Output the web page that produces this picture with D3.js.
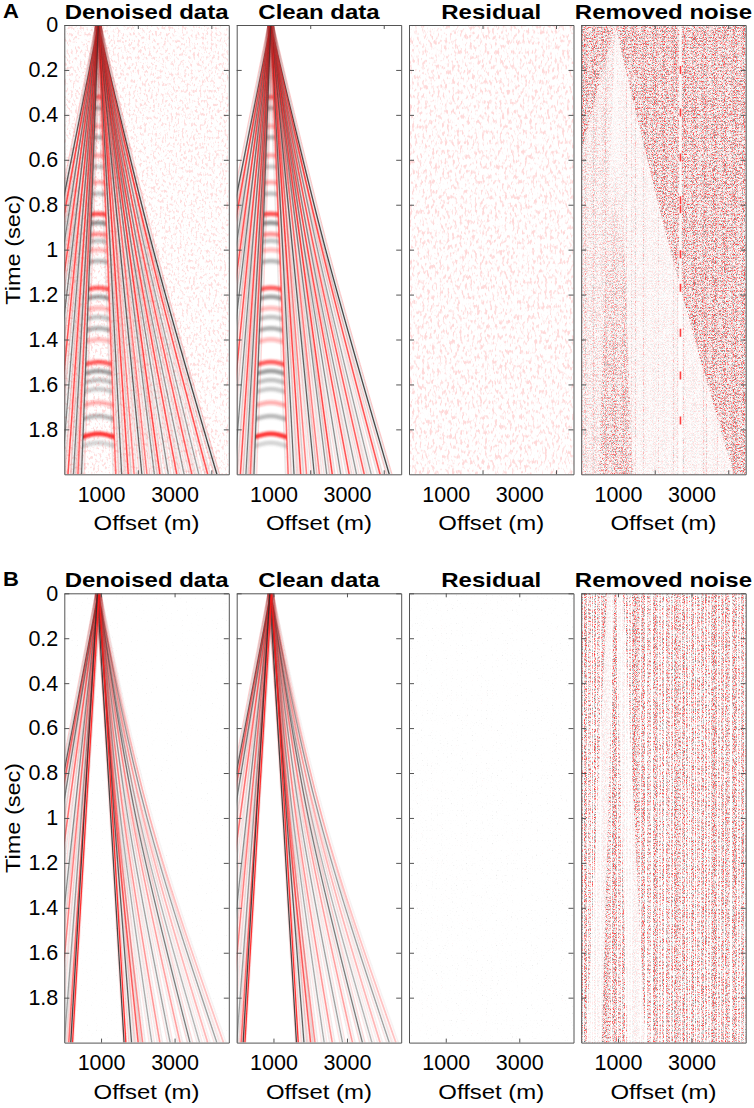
<!DOCTYPE html>
<html><head><meta charset="utf-8">
<script src="https://cdn.jsdelivr.net/npm/d3@7/dist/d3.min.js"></script>
<style>
html,body{margin:0;padding:0;background:#fff}
svg{display:block}
</style></head>
<body>
<svg id="fig" width="754" height="1108"></svg>
<script>
// ---------------- data ----------------
const panelTitles = ["Denoised data", "Clean data", "Residual", "Removed noise"];
const rowLabels = ["A", "B"];
const timeTicks = [0, 0.2, 0.4, 0.6, 0.8, 1, 1.2, 1.4, 1.6, 1.8];
const timeDomain = [0, 2];
const offsetDomain = [0, 4475];
const offsetTickLabels = [1000, 3000];
const offsetTickMarksA = [2000, 4000];
const offsetTickMarksB = [1000, 3000];
const apexOffset = 925;

// events: [offset at 1 s, offset at 2 s, polarity (+1 red, -1 black, 0 doublet), amplitude]
const eventsA = [
  [2420, 4150, -1, 1.0], [2320, 3900, 1, 0.85], [2200, 3660, -1, 0.5], [2110, 3470, 1, 0.8],
  [2010, 3260, -1, 0.55], [1930, 3060, 1, 0.85], [1840, 2830, -1, 0.6], [1760, 2600, 1, 0.9],
  [1690, 2450, -1, 0.6], [1600, 2250, 1, 0.6], [1520, 2110, -1, 0.85], [1420, 1900, 1, 0.6],
  [1340, 1740, 1, 0.9], [1250, 1560, -1, 0.8], [1170, 1400, 1, 0.7],
  [-300, -1500, -1, 0.9], [-170, -1270, 1, 0.85], [-30, -1000, -1, 0.65], [90, -760, 1, 0.85],
  [210, -510, -1, 0.7], [320, -280, 1, 0.85], [420, -70, -1, 0.65], [510, 100, 1, 0.85],
  [590, 250, -1, 0.7], [650, 370, 1, 0.7], [700, 470, -1, 0.75]
];
const innerConeA = [[700, 470], [1170, 1400]];
// flat reflections inside the inner cone: [time, polarity, amplitude]
const reflectionsA = [
  [0.32, 1, 0.6], [0.37, -1, 0.4], [0.45, 1, 0.3], [0.5, -1, 0.4], [0.58, 1, 0.35], [0.63, -1, 0.3],
  [0.70, 1, 0.35], [0.75, -1, 0.35], [0.84, 1, 0.75], [0.88, -1, 0.6], [0.93, 1, 0.45], [0.96, -1, 0.35],
  [1.00, 1, 0.3], [1.05, -1, 0.4], [1.17, 1, 0.7], [1.21, -1, 0.55], [1.26, 1, 0.3], [1.30, -1, 0.35],
  [1.35, -1, 0.45], [1.40, 1, 0.3], [1.50, 1, 0.7], [1.54, -1, 0.55], [1.58, -1, 0.35], [1.62, -1, 0.3],
  [1.68, 1, 0.35], [1.74, -1, 0.4], [1.82, 1, 0.9], [1.86, -1, 0.25]
];
const eventsB = [
  [2330, 4330, 1, 0.3], [2250, 4150, -1, 0.5], [2150, 3900, 1, 0.35], [2040, 3680, -1, 0.4],
  [1950, 3420, -1, 0.7], [1850, 3150, 1, 0.45], [1730, 2880, -1, 0.5], [1620, 2600, 1, 0.5],
  [1530, 2380, -1, 0.45], [1440, 2130, 1, 0.55], [1400, 2010, 1, 0.8], [1360, 1830, -1, 0.85],
  [1290, 1650, 0, 1.0],
  [-245, -1400, -1, 0.85], [-180, -1300, 1, 0.7], [-80, -1080, -1, 0.65], [90, -740, 1, 0.7],
  [265, -400, -1, 0.6], [355, -215, 1, 0.6], [460, 0, -1, 0.5], [520, 120, 1, 0.7],
  [560, 200, 0, 1.0]
];
// removed-noise masks
const noiseConeA = [[-720, -2370], [2420, 4150]];
const deadTraceA = 2700;
const spikeTimesA = [0.2, 0.39, 0.59, 0.78, 0.82, 1.02, 1.17, 1.37, 1.56, 1.76];
// white wedges in B removed noise: [left at 0 s, right at 0 s, left at 2 s, right at 2 s]
const whiteWedgesB = [[700, 900, 150, 560], [950, 1140, 1250, 1750]];

// ---------------- layout / style ----------------
const FONT = '"Liberation Sans", Arial, Helvetica, sans-serif';
const panelLefts = [64.3, 236.7, 409.0, 581.2], panelW = 164.5, panelH = 449.3, rowTops = [25, 593.3];
const RED = "#ff1c1c", BLK = "#2b2b2b", AXC = "#555";
const svg = d3.select("#fig");
const defs = svg.append("defs");

defs.append("filter").attr("id", "soft").attr("x", "-5%").attr("y", "-5%").attr("width", "110%").attr("height", "110%")
  .append("feGaussianBlur").attr("stdDeviation", 0.5);
defs.append("filter").attr("id", "soft2").attr("x", "-10%").attr("y", "-10%").attr("width", "120%").attr("height", "120%")
  .append("feGaussianBlur").attr("stdDeviation", 1.1);

const tables = {
  dense: {
    r: "0.38 0.38 0.4 0.43 0.48 0.55 0.63 0.72 0.82 0.92 1 1 1 1 1 1 1 0.97 0.94 0.92 0.92",
    g: "0.38 0.38 0.4 0.43 0.48 0.55 0.63 0.72 0.82 0.92 1 0.82 0.64 0.48 0.35 0.25 0.18 0.14 0.12 0.1 0.1"
  },
  pink: {
    r: "1 1 1 1 1 1 1 1 1 1 1 1 1 1 1 1 1 1 1 1 1",
    g: "1 1 1 1 1 1 1 1 1 1 1 0.96 0.88 0.8 0.74 0.7 0.7 0.7 0.7 0.7 0.7"
  },
  sparse: {
    r: "0.6 0.6 0.6 0.6 0.7 0.85 0.95 1 1 1 1 1 1 1 1 1 1 1 1 1 1",
    g: "0.6 0.6 0.6 0.6 0.7 0.85 0.95 1 1 1 1 1 1 1 1 0.95 0.85 0.8 0.8 0.8 0.8"
  }
};

function noiseFilter(id, box, freq, seed, oct, tab, stripes) {
  const f = defs.append("filter").attr("id", id).attr("filterUnits", "userSpaceOnUse")
    .attr("x", box[0]).attr("y", box[1]).attr("width", box[2]).attr("height", box[3])
    .attr("color-interpolation-filters", "sRGB");
  f.append("feTurbulence").attr("type", "fractalNoise").attr("baseFrequency", freq)
    .attr("numOctaves", oct).attr("seed", seed).attr("result", "t");
  f.append("feColorMatrix").attr("in", "t").attr("type", "matrix")
    .attr("values", "1 0 0 0 0  1 0 0 0 0  1 0 0 0 0  0 0 0 0 1").attr("result", "g");
  const ct = f.append("feComponentTransfer").attr("in", "g").attr("result", "c");
  ct.append("feFuncR").attr("type", "table").attr("tableValues", tab.r);
  ct.append("feFuncG").attr("type", "table").attr("tableValues", tab.g);
  ct.append("feFuncB").attr("type", "table").attr("tableValues", tab.g);
  if (stripes) {
    f.append("feTurbulence").attr("type", "fractalNoise").attr("baseFrequency", stripes.freq)
      .attr("numOctaves", 2).attr("seed", stripes.seed).attr("result", "s");
    f.append("feColorMatrix").attr("in", "s").attr("type", "matrix")
      .attr("values", "0 0 0 0 0  0 0 0 0 0  0 0 0 0 0  1 0 0 0 0").attr("result", "sa");
    f.append("feComponentTransfer").attr("in", "sa").attr("result", "m")
      .append("feFuncA").attr("type", "discrete").attr("tableValues", stripes.table);
    f.append("feComposite").attr("in", "c").attr("in2", "m").attr("operator", "in");
  }
}

function scaledText(parent, x, y, str, o) {
  return parent.append("text")
    .attr("transform", `translate(${x},${y})${o.rotate ? " rotate(-90)" : ""} scale(${o.sx || 1},1)`)
    .attr("text-anchor", o.anchor || "middle")
    .attr("font-family", FONT).attr("font-size", o.size || 20.5)
    .attr("font-weight", o.bold ? "bold" : "normal").attr("fill", "#000").text(str);
}

function drawEvents(g, x, y, events) {
  const line = d3.line().x(d => x(d[1])).y(d => y(d[0])).curve(d3.curveNatural);
  const eg = g.append("g").attr("filter", "url(#soft)");
  events.forEach(e => {
    const d = line([[0, apexOffset], [1, e[0]], [2, e[1]]]);
    const a = e[3];
    if (e[2] === 0) {
      eg.append("path").attr("d", d).attr("fill", "none").attr("stroke", RED).attr("stroke-width", 5).attr("stroke-opacity", 0.12);
      eg.append("path").attr("d", d).attr("fill", "none").attr("stroke", BLK).attr("stroke-width", 1.3)
        .attr("transform", "translate(-0.9,0)").attr("stroke-opacity", 0.85);
      eg.append("path").attr("d", d).attr("fill", "none").attr("stroke", RED).attr("stroke-width", 1.3)
        .attr("transform", "translate(0.9,0)").attr("stroke-opacity", 0.9);
      return;
    }
    const main = e[2] > 0 ? RED : BLK, opp = e[2] > 0 ? "#666" : RED;
    eg.append("path").attr("d", d).attr("fill", "none").attr("stroke", main).attr("stroke-width", 5)
      .attr("stroke-opacity", (e[2] > 0 ? 0.12 : 0.08) * a);
    [-2.8, 2.8].forEach(dx => eg.append("path").attr("d", d).attr("fill", "none").attr("stroke", opp)
      .attr("stroke-width", 1.1).attr("stroke-opacity", 0.22 * a).attr("transform", `translate(${dx},0)`));
    eg.append("path").attr("d", d).attr("fill", "none").attr("stroke", main)
      .attr("stroke-width", e[2] > 0 ? 1.5 : 1.3).attr("stroke-opacity", 0.85 * a);
  });
}

function bandPath(x, y, a, b, curve) {
  const area = d3.area().y(d => y(d[0])).x0(d => x(d[1])).x1(d => x(d[2])).curve(curve || d3.curveNatural);
  return area([[0, apexOffset, apexOffset], [1, a[0], b[0]], [2, a[1], b[1]]]);
}

function drawReflections(g, x, y, id) {
  defs.append("clipPath").attr("id", "cone-" + id).append("path").attr("d", bandPath(x, y, innerConeA[0], innerConeA[1]));
  const rg = g.append("g").attr("clip-path", `url(#cone-${id})`).append("g").attr("filter", "url(#soft2)");
  const line = d3.line().x(d => x(d[1])).y(d => y(d[0])).curve(d3.curveNatural);
  reflectionsA.forEach(r => {
    rg.append("path").attr("d", line([[r[0] + 0.03, apexOffset - 700], [r[0], apexOffset], [r[0] + 0.03, apexOffset + 700]]))
      .attr("fill", "none").attr("stroke", r[1] > 0 ? RED : "#555").attr("stroke-width", 4.5).attr("stroke-opacity", r[2]);
  });
}

rowLabels.forEach((lab, ri) => {
  const top = rowTops[ri];
  const y = d3.scaleLinear().domain(timeDomain).range([top, top + panelH]);
  const marks = ri === 0 ? offsetTickMarksA : offsetTickMarksB;
  scaledText(svg, 3, top - 7, lab, { bold: true, anchor: "start", sx: 1.1, size: 20 });
  panelLefts.forEach((left, pi) => {
    const x = d3.scaleLinear().domain(offsetDomain).range([left, left + panelW]);
    const id = `p${ri}${pi}`;
    const box = [left, top, panelW, panelH];
    defs.append("clipPath").attr("id", "clip-" + id).append("rect")
      .attr("x", left).attr("y", top).attr("width", panelW).attr("height", panelH);
    const g = svg.append("g").attr("clip-path", `url(#clip-${id})`);
    g.append("rect").attr("x", left).attr("y", top).attr("width", panelW).attr("height", panelH).attr("fill", "#fff");
    const noiseRect = (fid, op) => g.append("rect").attr("x", left).attr("y", top).attr("width", panelW)
      .attr("height", panelH).attr("filter", `url(#${fid})`).attr("opacity", op);

    if (ri === 0) {
      if (pi === 0) {
        noiseFilter("nz-" + id, box, "0.45 0.3", 3, 2, tables.pink);
        noiseRect("nz-" + id, 0.45);
      }
      if (pi <= 1) {
        drawReflections(g, x, y, id);
        drawEvents(g, x, y, eventsA);
      }
      if (pi === 2) {
        noiseFilter("nz-" + id, box, "0.4 0.2", 8, 2, tables.pink);
        noiseRect("nz-" + id, 0.5);
      }
      if (pi === 3) {
        noiseFilter("nz-" + id, box, "0.9 0.7", 5, 1, tables.dense);
        noiseRect("nz-" + id, 1);
        g.append("path").attr("d", bandPath(x, y, noiseConeA[0], innerConeA[0])).attr("fill", "#fff").attr("fill-opacity", 0.6);
        g.append("path").attr("d", bandPath(x, y, innerConeA[1], noiseConeA[1])).attr("fill", "#fff").attr("fill-opacity", 0.8);
        const gr = defs.append("linearGradient").attr("id", "gr-" + id).attr("gradientUnits", "userSpaceOnUse")
          .attr("x1", 0).attr("x2", 0).attr("y1", top).attr("y2", top + panelH);
        [[0, 0.95], [0.3, 0.85], [0.55, 0.4], [1, 0.1]].forEach(s =>
          gr.append("stop").attr("offset", s[0]).attr("stop-color", "#fff").attr("stop-opacity", s[1]));
        g.append("path").attr("d", bandPath(x, y, innerConeA[0], innerConeA[1])).attr("fill", `url(#gr-${id})`);
        noiseFilter("st-" + id, box, "0.9 0.7", 12, 1, tables.dense,
          { freq: "0.6 0", seed: 4, table: "0 0 0 0 0 0 0 0 0 0 0 0 0 1 1 1 1 1 1 1" });
        g.append("path").attr("d", bandPath(x, y, noiseConeA[0], noiseConeA[1])).attr("fill", "#fff")
          .attr("filter", `url(#st-${id})`).attr("opacity", 0.4);
        g.append("line").attr("x1", x(deadTraceA)).attr("x2", x(deadTraceA)).attr("y1", top).attr("y2", top + panelH)
          .attr("stroke", "#fff").attr("stroke-width", 2.6).attr("stroke-opacity", 0.85);
        g.selectAll(null).data(spikeTimesA).enter().append("line")
          .attr("x1", x(deadTraceA)).attr("x2", x(deadTraceA)).attr("y1", d => y(d) - 4).attr("y2", d => y(d) + 4)
          .attr("stroke", RED).attr("stroke-width", 1.6).attr("stroke-opacity", 0.85);
      }
    } else {
      if (pi === 0 || pi === 2) {
        noiseFilter("nz-" + id, box, "0.8 0.6", 21 + pi, 1, tables.sparse);
        noiseRect("nz-" + id, pi === 0 ? 0.15 : 0.22);
      }
      if (pi <= 1) drawEvents(g, x, y, eventsB);
      if (pi === 3) {
        noiseFilter("nz-" + id, box, "0.9 0.75", 6, 1, tables.dense,
          { freq: "0.7 0", seed: 9, table: "0 0 0 0 0 0 0 0 0 1 1 1 1 1 1 1 1 1 1 1" });
        noiseRect("nz-" + id, 1);
        const wa = d3.area().y(d => y(d[0])).x0(d => x(d[1])).x1(d => x(d[2]));
        whiteWedgesB.forEach(w => g.append("path").attr("d", wa([[0, w[0], w[1]], [2, w[2], w[3]]]))
          .attr("fill", "#fff").attr("fill-opacity", 0.8));
      }
    }

    // axes
    const axG = svg.append("g").attr("color", AXC);
    const style = s => {
      s.attr("font-family", FONT).attr("font-size", 21.5);
      s.selectAll("path.domain").attr("stroke", AXC).attr("stroke-width", 1);
      s.selectAll(".tick line").attr("stroke", AXC).attr("stroke-width", 1);
      s.selectAll(".tick text").attr("fill", "#000");
    };
    axG.append("g").attr("transform", `translate(${left},0)`)
      .call(d3.axisLeft(y).tickValues(timeTicks).tickSizeInner(-5).tickSizeOuter(0).tickPadding(6)
        .tickFormat(pi === 0 ? (d => String(d)) : (() => ""))).call(style);
    axG.append("g").attr("transform", `translate(${left + panelW},0)`)
      .call(d3.axisRight(y).tickValues(timeTicks).tickSizeInner(-5).tickSizeOuter(0).tickFormat(() => "")).call(style);
    axG.append("g").attr("transform", `translate(0,${top})`)
      .call(d3.axisTop(x).tickValues(marks).tickSizeInner(-4).tickSizeOuter(0).tickFormat(() => "")).call(style);
    axG.append("g").attr("transform", `translate(0,${top + panelH})`)
      .call(d3.axisBottom(x).tickValues(marks).tickSizeInner(-4).tickSizeOuter(0).tickFormat(() => "")).call(style);
    const lab = axG.append("g").attr("transform", `translate(0,${top + panelH})`)
      .call(d3.axisBottom(x).tickValues(offsetTickLabels).tickSize(0).tickPadding(12).tickFormat(d => String(d))).call(style);
    lab.select("path.domain").remove();

    scaledText(svg, left + panelW / 2, top - 6, panelTitles[pi], { bold: true, sx: 1.17 });
    scaledText(svg, left + panelW / 2, top + panelH + 56, "Offset (m)", { sx: 1.14, size: 21 });
    if (pi === 0) scaledText(svg, 19.5, top + panelH / 2, "Time (sec)", { rotate: true, sx: 1.12, size: 21 });
  });
});
</script>
</body></html>
